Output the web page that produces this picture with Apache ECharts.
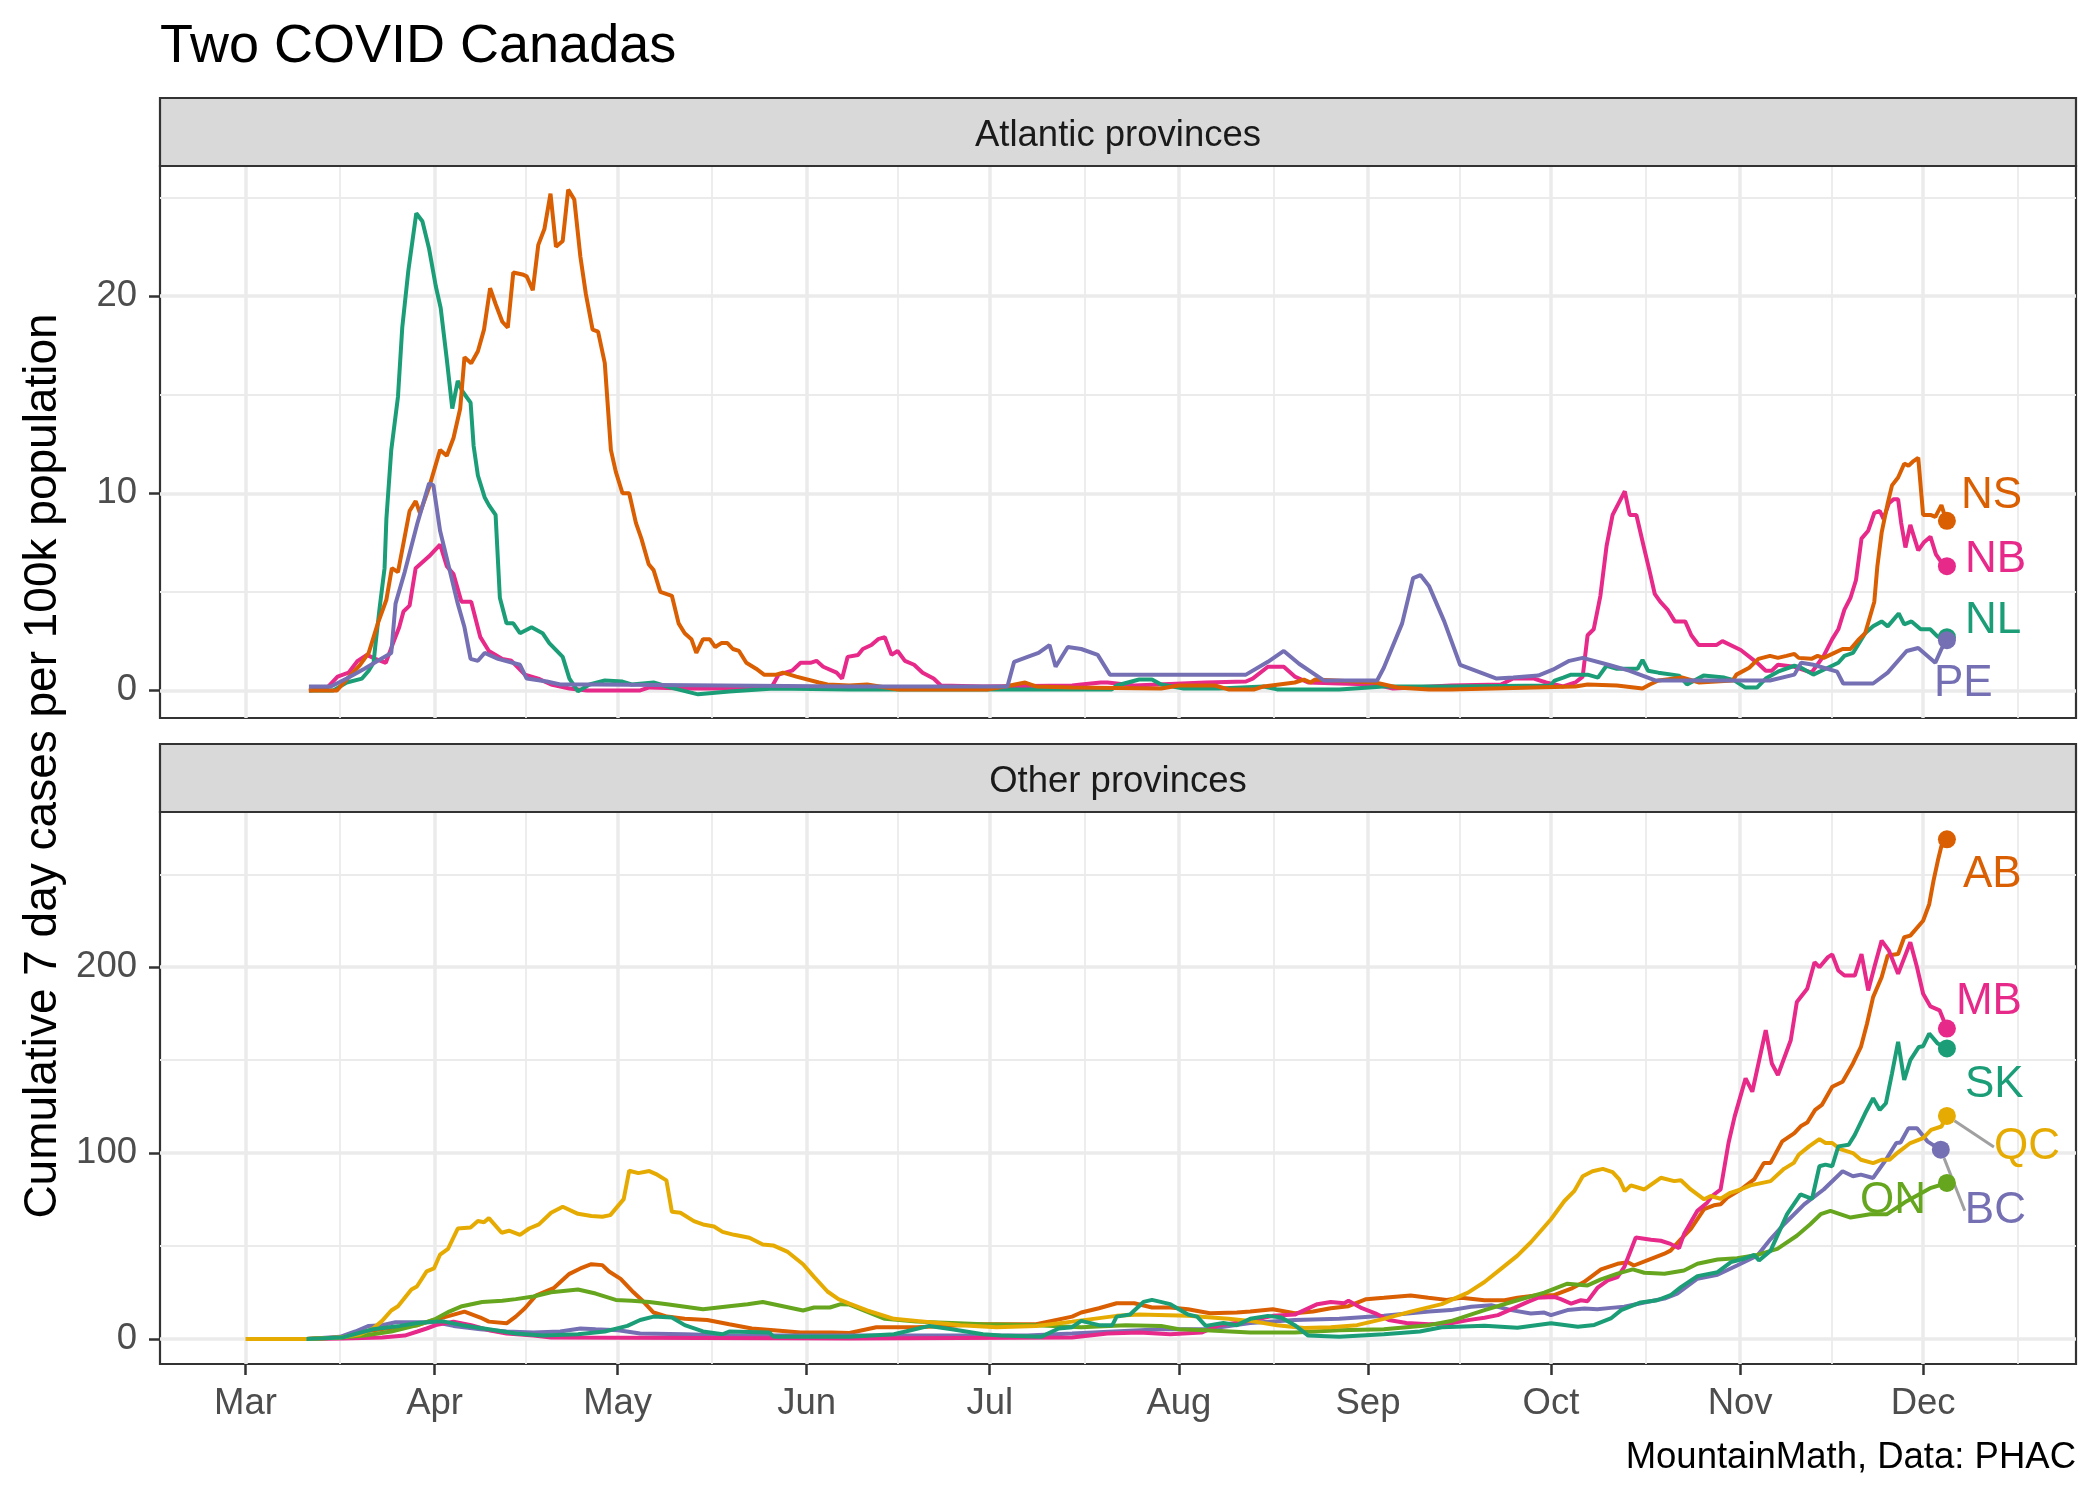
<!DOCTYPE html>
<html><head><meta charset="utf-8">
<script src="https://cdn.jsdelivr.net/npm/echarts@6.0.0/dist/echarts.min.js"></script>
<style>html,body{margin:0;padding:0;background:#fff}#chart{width:2100px;height:1500px}</style>
</head><body><div id="chart"></div>
<script>
// x values are days since 1 March 2020
const monthTicks = [0,31,61,92,122,153,184,214,245,275];
const monthLabels = ['Mar','Apr','May','Jun','Jul','Aug','Sep','Oct','Nov','Dec'];
const monthMinor = [15.5,46,76.5,107,137.5,168.5,199,229.5,260,290.5];
const topTicks = [0,10,20];
const topMinor = [5,15,25];
const botTicks = [0,100,200];
const botMinor = [50,150,250];

// Atlantic provinces
const NS = [[10.4,0],[15,0],[17.3,0.8],[18.8,1.3],[20.2,1.9],[21.7,3.4],[23.1,4.6],[24,6.2],[25,6.0],[26.9,9.1],[27.9,9.6],[28.6,9.0],[30.1,10.3],[31.9,12.2],[33,11.9],[34.1,12.8],[35.2,14.3],[35.9,16.9],[37,16.6],[38.1,17.2],[39.1,18.3],[40.1,20.4],[41,19.6],[42.1,18.7],[43,18.4],[43.9,21.2],[45.4,21.1],[46.1,21.0],[47.1,20.3],[48,22.6],[49,23.4],[50,25.2],[50.9,22.5],[52,22.8],[52.9,25.4],[53.9,24.9],[54.9,22.0],[55.8,20.1],[56.9,18.3],[57.8,18.2],[58.9,16.6],[59.9,12.2],[60.7,11.1],[61.8,10.0],[62.9,10.0],[64,8.5],[64.9,7.7],[66.1,6.4],[66.9,6.1],[68,5.0],[69.9,4.8],[71,3.4],[72,2.9],[73.1,2.6],[73.9,1.9],[75,2.6],[76.1,2.6],[77,2.2],[78,2.4],[79,2.4],[79.9,2.1],[80.9,2.0],[82.1,1.4],[83.7,1.1],[85,0.8],[87,0.8],[88.1,0.9],[90.3,0.7],[94,0.4],[95.4,0.3],[99,0.25],[101.9,0.3],[107,0.05],[121.6,0.05],[124.5,0.2],[127.8,0.4],[129.6,0.2],[135.5,0.15],[150.1,0.1],[153,0.25],[158.9,0.25],[161.1,0.05],[165.4,0.05],[166.9,0.2],[172,0.4],[173.5,0.55],[174.6,0.4],[175.3,0.55],[185.2,0.4],[188.8,0.15],[194,0.05],[197.6,0.05],[218,0.2],[220,0.3],[224.8,0.25],[229,0.1],[230.2,0.3],[231.6,0.5],[235.6,0.65],[238.3,0.4],[243.8,0.5],[244.4,0.8],[246.5,1.15],[248,1.6],[249.9,1.75],[251.2,1.65],[252.6,1.75],[253.9,1.85],[254.6,1.65],[256.7,1.6],[257.7,1.75],[258.7,1.65],[260.1,1.85],[261.8,2.1],[263.1,2.1],[264.5,2.6],[265.5,2.9],[267,4.5],[267.5,6.3],[268.2,8.0],[269.2,9.5],[269.9,10.4],[270.9,10.8],[271.9,11.5],[272.6,11.4],[273.3,11.6],[274.2,11.8],[275,8.9],[276.2,8.9],[277,8.8],[278,9.4],[278.5,8.9],[278.9,8.6]];
const NB = [[10.4,0],[13.3,0.1],[15.1,0.7],[16.9,0.9],[18.4,1.5],[19.9,1.8],[21.3,1.6],[23,1.4],[24.2,2.4],[25.2,3.2],[25.9,4.0],[26.9,4.3],[27.9,6.2],[30.1,6.8],[31.9,7.4],[33,6.3],[34.1,5.9],[35.4,4.5],[37,4.5],[38.5,2.7],[39.9,2.0],[42.1,1.6],[43.6,1.5],[45.8,0.8],[48,0.6],[50.1,0.3],[53.1,0.1],[56,0],[64.7,0],[66.2,0.15],[72,0.1],[79.3,0.1],[86.3,0.2],[87.4,0.8],[89.6,1.0],[91,1.4],[92.6,1.4],[93.6,1.5],[94.7,1.2],[96.9,0.9],[97.8,0.6],[98.7,1.7],[100.4,1.8],[101.2,2.1],[102.6,2.3],[103.7,2.6],[104.8,2.7],[105.9,1.8],[106.9,2.0],[108.1,1.5],[109.6,1.3],[111,0.9],[112.8,0.6],[114,0.25],[120.9,0.2],[135.5,0.25],[137,0.3],[140.2,0.4],[141.3,0.4],[145.7,0.25],[157.4,0.4],[164,0.45],[165.1,0.6],[167.6,1.2],[170.2,1.2],[172,0.7],[174.2,0.4],[179.3,0.35],[185.2,0.3],[188.1,0.1],[197.6,0.25],[205.8,0.3],[207.8,0.6],[211.2,0.6],[213.2,0.4],[216,0.2],[218,0.4],[219.2,0.7],[220,2.8],[221,3.1],[222.1,4.8],[223.1,7.3],[224.1,8.9],[225.1,9.5],[226.1,10.1],[226.9,8.9],[228,8.9],[229.2,7.3],[230.2,6.0],[231,4.9],[231.9,4.5],[233.1,4.1],[234.3,3.5],[236,3.5],[237,2.8],[238.2,2.3],[241.1,2.3],[242.1,2.5],[245.1,2.05],[247.8,1.4],[249.2,1.0],[250.2,1.0],[251.2,1.3],[253.9,1.2],[256.7,0.9],[257.3,1.15],[258.7,1.75],[260.1,2.6],[261.1,3.1],[262.1,4.1],[263.1,4.7],[264,5.6],[264.9,7.7],[266,8.1],[267,9.0],[267.9,9.1],[268.5,8.7],[269.4,9.5],[270.2,9.7],[270.9,9.7],[271.4,8.5],[272.1,7.25],[272.9,8.4],[274.2,7.1],[275.1,7.5],[276.2,7.8],[277.1,6.9],[278,6.5],[278.9,6.3]];
const NL = [[10.4,0],[14.4,0],[16.6,0.4],[19.1,0.6],[20.2,1.0],[21,1.4],[21.3,2.3],[22,4.2],[22.8,6.2],[23.1,8.7],[23.9,12.2],[25,14.9],[25.7,18.4],[26.7,21.3],[28,24.2],[29,23.8],[30.1,22.4],[31.2,20.5],[32,19.4],[33,16.8],[33.9,14.3],[34.8,15.7],[35.5,15.2],[36.9,14.6],[37.4,12.4],[38.1,10.9],[39.2,9.8],[39.9,9.4],[41,8.9],[41.7,4.7],[42.8,3.4],[43.9,3.4],[45,2.9],[46.9,3.2],[48.7,2.9],[49.8,2.4],[52,1.7],[53.1,0.6],[54.5,-0.05],[56.4,0.3],[58.9,0.5],[61.8,0.45],[63.3,0.3],[66.9,0.4],[70.2,0.1],[74.2,-0.2],[79.3,-0.05],[86.6,0.1],[99,0.05],[142,0.05],[142.8,0.25],[146.5,0.55],[148.6,0.55],[150.1,0.3],[153.8,0.1],[159.6,0.1],[166.9,0.2],[169.1,0.05],[179.3,0.05],[186.6,0.2],[197.6,0.2],[213.9,0.25],[214.6,0.5],[216,0.65],[217.3,0.8],[220,0.8],[221.7,0.65],[223.1,1.25],[224.8,1.1],[228.2,1.1],[229,1.55],[229.9,1.0],[231.6,0.9],[235,0.75],[236.3,0.3],[239,0.75],[242.4,0.65],[244.1,0.5],[245.8,0.15],[247.8,0.15],[249.2,0.6],[251.2,0.95],[253.9,1.25],[255,1.15],[257,0.8],[258.7,1.05],[261.1,1.4],[262.1,1.75],[263.5,1.9],[264.5,2.4],[265.5,2.9],[266.8,3.25],[268.2,3.5],[269.2,3.25],[269.9,3.5],[271,3.9],[271.9,3.35],[273.1,3.5],[274.6,3.1],[276.2,3.1],[277.3,2.75],[278,2.6],[278.9,2.7]];
const PE = [[10.4,0.2],[14,0.2],[16.6,0.6],[19.5,1.1],[21.7,1.5],[23.9,1.9],[24.6,4.4],[26.1,6.0],[28.2,8.5],[30.1,10.5],[30.8,10.4],[31.9,8.1],[33.4,6.2],[34.8,4.4],[35.9,3.2],[36.9,1.6],[38.1,1.5],[39.2,1.9],[41.4,1.6],[45,1.3],[46.1,0.6],[49.4,0.45],[51.6,0.3],[57.4,0.3],[99,0.2],[124.9,0.2],[126,1.45],[128.2,1.7],[130,1.9],[131.8,2.3],[132.8,1.2],[134.8,2.2],[137,2.1],[139.7,1.8],[141.7,0.8],[164,0.8],[167.6,1.45],[170.2,2.0],[172.7,1.35],[176.8,0.5],[185.5,0.5],[186.6,1.15],[189.6,3.4],[191.4,5.7],[192.6,5.85],[194,5.3],[196.5,3.5],[199.1,1.3],[205.1,0.6],[207.8,0.65],[211.9,0.75],[214.3,1.05],[217,1.5],[219.2,1.65],[223.4,1.3],[226.8,1.0],[231.2,0.5],[249.9,0.5],[253.9,0.8],[255,1.4],[257,1.3],[260.9,0.95],[261.9,0.35],[266.8,0.35],[269.2,0.9],[272.3,2.0],[274.2,2.15],[277,1.4],[278,2.1],[278.9,2.55]];

// Other provinces
const AB = [[10,0],[15.5,0.7],[19.5,4],[23.1,5.6],[28.2,7.4],[30.9,10.2],[33.4,12.4],[35.9,14.7],[38.5,11.5],[39.9,9.3],[42.8,8.4],[44.3,12],[45.8,16.5],[47.6,23.3],[50.5,27.3],[53.1,35],[54.9,37.9],[56.7,40.2],[58.5,39.7],[59.6,36.3],[61.5,32.3],[63.6,25.1],[65.1,20.5],[66.9,14.2],[69.1,12],[72,10.8],[75.7,10.2],[79.3,7.9],[83,5.6],[86.6,4.7],[91,3.4],[96.1,3.4],[99,3.2],[103.4,6.3],[110,6.3],[117.2,7.4],[120.9,7.9],[129.6,7.9],[135.5,12],[137,14.2],[139.9,16.5],[142.8,19.2],[145.7,19.2],[148.6,16.9],[151.6,16.9],[154.5,16],[158.1,13.8],[162.5,14.2],[164.7,14.7],[168.4,16],[172,13.8],[175,14.7],[177.9,16.5],[180.8,17.6],[183.7,21.4],[186.6,22.1],[191,23.3],[193.9,22.1],[196.9,21],[199.3,22.1],[203.1,20.8],[206.4,20.8],[208.5,22.1],[211.8,23.5],[214.5,23.5],[217.3,27],[219.4,30.6],[222.2,37.4],[224.9,40.4],[226.6,41.3],[227.6,39.5],[230.4,43.1],[232.5,45.7],[233.6,47.5],[235.3,53.7],[236.9,59.1],[239.1,69.8],[240.7,71.9],[241.8,72.4],[242.9,76],[245.1,80.4],[247.3,85.8],[248.9,94.7],[250,94.7],[251.9,106.3],[253.9,110.7],[255,114.6],[256,116.4],[257.3,123.2],[258.4,125.9],[260.1,135.7],[261.8,138.4],[263.5,148.2],[264.8,157.1],[265.8,169.6],[266.8,183.9],[268.2,194.6],[269.2,206.3],[270.9,207.1],[271.9,216.1],[272.9,217],[275,225],[276,233.9],[276.7,246.4],[277.4,257.1],[278,265.2],[278.9,268.8]];
const BC = [[10,0],[15.5,1.1],[18,4],[20.2,7],[22.4,7.4],[24.6,9],[31.2,9],[34.1,7],[38.5,5.2],[42.8,4],[47.2,3.4],[51.6,4],[54.9,5.6],[57.4,5.2],[61.1,4.7],[64.7,2.9],[72,2.5],[79.3,1.8],[99,1.8],[128.2,1.8],[135.5,2.9],[150.1,5.2],[157.4,5.2],[164.7,8.6],[172,10.2],[179.3,10.8],[186.6,12.4],[194,14.7],[197.6,15.5],[200.9,17.3],[204.2,18.1],[207.5,15.5],[210.7,13.7],[212.9,14.2],[214,12.8],[216.7,15.5],[219.5,16.4],[221.6,16],[223.8,16.7],[226,17.3],[229.3,19.6],[232.6,21.7],[234.7,24.4],[238,32.4],[241.3,34.5],[244.5,39.5],[247.8,44.8],[250,53.7],[252.2,61.7],[255.5,72.4],[258.7,80.4],[261.8,90.2],[263.5,87.5],[264.8,88.4],[266.8,86.6],[268.9,96.4],[270.6,105.4],[271.3,105.7],[272.6,113.4],[274,113.4],[275.7,106.3],[277,103.6],[277.9,101.8]];
const MB = [[10,0],[15.8,0.2],[22.4,0.7],[26.1,1.8],[28.2,4],[29.7,5.6],[31.2,7.4],[34.1,9.3],[37,7.4],[39.9,4.7],[42.8,2.9],[47.2,1.8],[50.1,0.7],[99,0.2],[135.5,0.7],[141.3,2.9],[146.5,3.4],[151.6,2.5],[156.7,3.4],[159.6,7.4],[164.7,9.7],[168.4,12.4],[172,13.1],[175.7,18.7],[177.9,19.9],[180.1,19.2],[180.8,20.5],[183,16.5],[185.2,13.8],[187.4,10.2],[190.3,8.6],[194,7.9],[197.6,8.4],[200.4,10.1],[203.1,11.4],[205.3,12.8],[208,16.7],[210.2,19.9],[211.8,22.1],[214.5,22.6],[215.6,21.4],[217.3,19],[218.9,20.8],[220,20.3],[221.6,27.4],[223.3,31.5],[224.9,33.3],[226,38.6],[227.9,54.6],[230.4,53.4],[232,52.8],[233.6,51.1],[235,48.8],[235.8,56.4],[238,68.9],[239.6,73.3],[240.4,76.9],[241.8,80.4],[243.1,105.4],[244.1,119.6],[245.9,140.2],[247,133],[249.2,166.1],[250.2,148.2],[251.2,142],[253.3,160.7],[254.3,181.3],[256,188.4],[257.2,202.7],[258,200],[259.4,205.4],[260.1,206.8],[261.1,198.2],[262.1,195.5],[263.8,195.5],[264.9,207.1],[266,187.5],[267,200],[268.2,214.3],[269.4,208.9],[270.9,196.4],[272.9,213.4],[274,200],[275,185.7],[276.2,178.9],[277.7,176.8],[278.9,167]];
const ON = [[10,0],[15.5,0.7],[19.5,1.8],[23.9,4],[28.2,7.4],[31.2,10.8],[33.4,14.7],[35.5,17.6],[38.8,19.9],[42.1,20.5],[44.3,21.4],[47.2,22.8],[50.1,25.1],[54.5,26.6],[57.4,24.4],[60.7,21],[63.3,20.5],[66.2,19.9],[69.1,18.7],[75,16],[79.3,17.6],[82.3,18.7],[84.8,19.9],[88.1,17.6],[91.4,15.3],[93.2,16.9],[95.8,16.9],[97.6,18.7],[99,18.5],[104.8,10.8],[110,9.3],[115.8,8.6],[120.9,7.9],[129.6,7.4],[137,6.3],[144.3,7.4],[150.1,7],[153,5.2],[157.4,4.7],[164.7,3.4],[172,3.4],[179.3,4.7],[186.6,5.2],[194,7.4],[197.6,9.6],[203.1,15.5],[208.5,20.8],[212.9,24.9],[216.7,29.7],[220,28.8],[222.2,32],[224.9,35.1],[227.4,37.4],[229.3,35.6],[232.6,35.1],[235.8,36.8],[238,40.4],[241.3,42.7],[244.5,43.4],[247.8,45.2],[251.1,48.4],[254.3,55.5],[256.5,61.7],[258.2,67.1],[259.8,68.9],[263.1,65.3],[266.3,67.1],[269.1,67.1],[271.3,71.9],[272.3,74.1],[274.3,77.7],[276.3,81.3],[278.9,83.9]];
const QC = [[0,0],[10,0],[15.5,0.7],[18.8,2.5],[20.9,5.6],[22.4,9.7],[23.9,15.3],[25,17.6],[27.2,26.6],[28.1,28.2],[29.7,36.3],[30.9,37.9],[31.9,45.4],[33.2,48.5],[34.8,59.4],[36.9,60.0],[38.1,63.4],[39.1,62.8],[39.9,65.0],[42,57.1],[43.2,58.2],[45,56.0],[46.5,59.4],[48.1,61.6],[50.1,67.9],[52,71.1],[54.5,67.3],[56.7,66.1],[58.5,65.7],[59.8,66.6],[62,75.2],[62.9,90.5],[64.4,89.2],[66.2,90.3],[67.3,88.7],[69,85.3],[69.9,68.4],[71.3,67.9],[73.5,63.4],[75,61.6],[76.8,60.5],[78.2,57.6],[80.1,56],[82.6,54.4],[84.8,50.8],[86.5,50.3],[88.8,47],[91.4,40.2],[93.2,33.4],[95.4,25.5],[97.2,21.4],[99,19],[101.9,15.3],[106.3,10.8],[110,9.7],[113.6,8.6],[117.2,7.4],[123.1,6.3],[129.6,7],[135.5,9.3],[142.8,12.4],[146.5,13.1],[154.5,12.4],[161.1,10.8],[164.7,9.7],[169.1,7.4],[173.5,5.9],[177.9,6.3],[182.2,7.4],[186.6,10.8],[191,14.7],[196.1,18.7],[200.4,24.9],[203.1,30.6],[205.8,37.7],[208.5,44.8],[210.7,52],[214,64.4],[216.2,74.2],[217.8,79.5],[219.2,87.5],[220.8,90.2],[222.5,91.5],[224.1,89.7],[225.2,85.8],[226.1,79.5],[227.1,82.6],[229.3,80.4],[232,86.7],[234.2,84.9],[235.3,85.4],[236.9,80.4],[239.1,75.1],[240.2,76.9],[241.8,75.4],[243.4,78.6],[245.1,80.4],[246.7,82.6],[250,84.9],[252.2,91.5],[253.8,94.7],[254.6,99.1],[256.3,103.6],[258,107.5],[259,105.4],[260.1,105.4],[261.4,102.1],[263.5,100],[264.8,96.4],[266.8,94.6],[268.2,96.4],[269.5,96.4],[270.9,100.4],[272.9,105.4],[275,108],[276.3,112.5],[278,114.3],[278.9,120]];
const SK = [[10,0],[15.8,0.7],[20.9,5.2],[25.3,7],[28.2,8.6],[31.2,9.3],[32.6,9.3],[35.5,7.4],[39.9,5.2],[44.3,2.9],[48.7,1.8],[54.5,2.5],[58.9,4],[62.6,7],[64.7,10.2],[66.9,12],[69.9,11.5],[72,7.4],[75,4],[78.2,2.5],[79.3,4],[85.9,3.4],[86.6,1.1],[99,1.1],[106.3,2.5],[112.1,7],[115.8,5.2],[120.9,2.5],[123.8,1.8],[130.4,1.1],[133.3,5.6],[135.5,6.3],[137,9.7],[139.9,7.4],[142.1,7.4],[142.8,12],[145,13.1],[147.2,19.9],[148.6,21],[151.6,18.7],[154.5,13.1],[156,12],[157.4,7],[160.3,8.6],[162.5,7.4],[164.7,10.8],[167.6,12.4],[169.8,11.5],[172,7.4],[174.2,1.8],[179.3,1.1],[186.6,2.5],[192.5,4],[196.1,6.3],[203.1,7.1],[208.5,6.0],[214,8.4],[218.4,6.6],[221.1,7.5],[223.8,11],[225.5,15.5],[228.7,19.6],[231.4,20.8],[233.6,23.5],[235.3,27.9],[238,33.8],[241.3,35.9],[243.5,41.3],[245.6,43.1],[247.3,45.2],[248.1,42.2],[250,47.5],[252.7,67.1],[254.9,77.8],[256.8,75.4],[258,92.9],[259,93.8],[260.1,92.9],[261.1,103.6],[262.8,104.5],[263.8,109.8],[265.5,121.4],[266.8,129.5],[267.9,123.2],[268.9,126.8],[269.9,142.9],[270.9,159.8],[271.9,139.3],[272.9,150],[274.3,157.1],[275,157.5],[276,164.3],[277.4,158.9],[278.9,156.3]];

const atlantic = {NB, NL, NS, PE};
const others = {AB, BC, MB, ON, QC, SK};

const COLORS = {NS:'#D95F02', NB:'#E7298A', NL:'#1B9E77', PE:'#7570B3',
  AB:'#D95F02', MB:'#E7298A', SK:'#1B9E77', QC:'#E6AB02', BC:'#7570B3', ON:'#66A61E'};
const LABEL_STYLE = {
  NS:{pos:'right', dx:0, dy:-25}, NB:{pos:'right', dx:4, dy:-6},
  NL:{pos:'right', dx:4, dy:-16}, PE:{pos:'right', dx:-27, dy:44},
  AB:{pos:'right', dx:2, dy:36}, MB:{pos:'right', dx:-5, dy:-27},
  SK:{pos:'right', dx:4, dy:36}, QC:{pos:'right', dx:33, dy:31, line:true},
  BC:{pos:'right', dx:10, dy:61, line:true}, ON:{pos:'left', dx:-7, dy:18}
};

const FONT = 'Liberation Sans, Arial, Helvetica, sans-serif';
const XMIN = -14.01, XMAX = 300.06;
const GRID_L = 160, GRID_R = 24, GRID_W = 2100 - 160 - 24;
const PANELS = [{top:166, height:552, stripTop:98}, {top:812, height:552, stripTop:744}];
const MAJOR = {color:'#EBEBEB', width:3.5};
const MINOR = {color:'#EBEBEB', width:1.8};

function xAxisPair(gi, showLabels) {
  return [
    {gridIndex:gi, type:'value', min:XMIN, max:XMAX, position:'bottom',
     axisLine:{show:false, onZero:false},
     axisTick:{show:showLabels, customValues:monthTicks, length:11, lineStyle:{color:'#333333', width:2.5}},
     axisLabel:{show:showLabels, customValues:monthTicks, margin:21, fontSize:36.5, color:'#4D4D4D', fontFamily:FONT,
       formatter: v => monthLabels[monthTicks.indexOf(Math.round(v))] || ''},
     splitLine:{show:true, lineStyle:MAJOR}},
    {gridIndex:gi, type:'value', min:XMIN, max:XMAX, position:'bottom',
     axisLine:{show:false, onZero:false}, axisTick:{show:false, customValues:monthMinor},
     axisLabel:{show:false, customValues:monthMinor},
     splitLine:{show:true, lineStyle:MINOR}}
  ];
}
function yAxisPair(gi, min, max, ticks, minor) {
  return [
    {gridIndex:gi, type:'value', min, max, position:'left',
     axisLine:{show:false, onZero:false},
     axisTick:{show:true, customValues:ticks, length:11, lineStyle:{color:'#333333', width:2.5}},
     axisLabel:{show:true, customValues:ticks, margin:23, fontSize:36.5, color:'#4D4D4D', fontFamily:FONT, padding:[8,0,0,0]},
     splitLine:{show:true, lineStyle:MAJOR}},
    {gridIndex:gi, type:'value', min, max, position:'left',
     axisLine:{show:false, onZero:false}, axisTick:{show:false, customValues:minor},
     axisLabel:{show:false, customValues:minor},
     splitLine:{show:true, lineStyle:MINOR}}
  ];
}

const series = [];
function addPanel(group, axisIdx) {
  Object.keys(group).forEach(name => {
    series.push({type:'line', name, data:group[name], xAxisIndex:axisIdx, yAxisIndex:axisIdx,
      showSymbol:false, silent:true, animation:false,
      lineStyle:{color:COLORS[name], width:4}, itemStyle:{color:COLORS[name]}, z:3});
  });
  Object.keys(group).forEach(name => {
    const d = group[name]; const ls = LABEL_STYLE[name];
    series.push({type:'scatter', name:name+'_end', data:[d[d.length-1]], xAxisIndex:axisIdx, yAxisIndex:axisIdx,
      symbolSize:18, silent:true, animation:false, itemStyle:{color:COLORS[name], opacity:1}, z:5,
      label:{show:true, formatter:name, position:ls.pos, distance:5, color:COLORS[name], fontSize:44, fontFamily:FONT},
      labelLayout:{dx:ls.dx, dy:ls.dy},
      labelLine:{show:!!ls.line, lineStyle:{color:'#A0A0A0', width:3}}});
  });
}
addPanel(atlantic, 0);
addPanel(others, 2);

const graphics = [];
[['Atlantic provinces', 0], ['Other provinces', 1]].forEach(([t, i]) => {
  const p = PANELS[i];
  graphics.push({type:'rect', shape:{x:GRID_L, y:p.stripTop, width:GRID_W, height:p.top - p.stripTop},
    style:{fill:'#D9D9D9', stroke:'#333333', lineWidth:2.2}, z:1});
  graphics.push({type:'text', x:GRID_L + GRID_W/2, y:(p.stripTop + p.top)/2 + 4,
    style:{text:t, fontSize:36.5, fontFamily:FONT, fill:'#1A1A1A', textAlign:'center', textVerticalAlign:'middle'}, z:2});
});
graphics.push({type:'text', x:160, y:47, style:{text:'Two COVID Canadas', fontSize:54, fontFamily:FONT, fill:'#000', textAlign:'left', textVerticalAlign:'middle'}});
graphics.push({type:'text', x:43, y:766, rotation:Math.PI/2,
  style:{text:'Cumulative 7 day cases per 100k population', fontSize:46, fontFamily:FONT, fill:'#000', textAlign:'center', textVerticalAlign:'middle'}});
graphics.push({type:'text', x:2076, y:1458, style:{text:'MountainMath, Data: PHAC', fontSize:36.5, fontFamily:FONT, fill:'#000', textAlign:'right', textVerticalAlign:'middle'}});

const chart = echarts.init(document.getElementById('chart'), null, {renderer:'canvas', width:2100, height:1500});
chart.setOption({
  animation:false,
  backgroundColor:'#ffffff',
  textStyle:{fontFamily:FONT},
  grid: PANELS.map(p => ({left:GRID_L, width:GRID_W, top:p.top, height:p.height, show:true,
    borderColor:'#333333', borderWidth:2.2, backgroundColor:'transparent', containLabel:false})),
  xAxis: [...xAxisPair(0, false), ...xAxisPair(1, true)],
  yAxis: [...yAxisPair(0, -1.4, 26.6, topTicks, topMinor), ...yAxisPair(1, -13.5, 283.5, botTicks, botMinor)],
  series,
  graphic: graphics
});
</script></body></html>
